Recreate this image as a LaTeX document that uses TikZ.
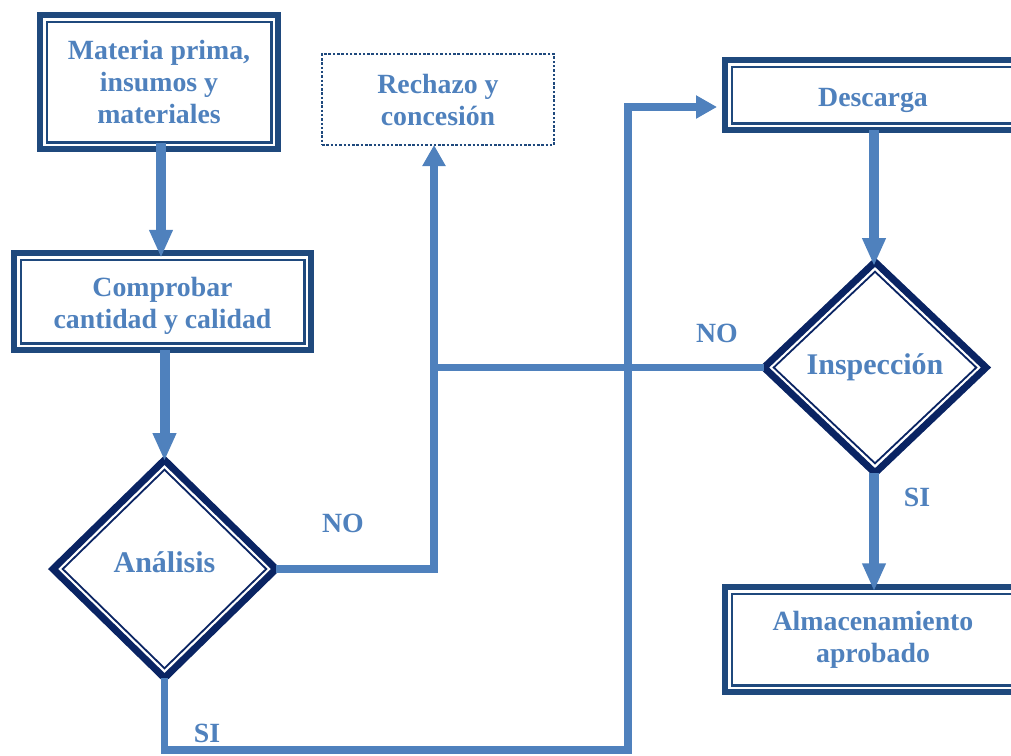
\documentclass[tikz,border=0pt]{standalone}
\usepackage{fontspec}
\setmainfont{Liberation Serif}
\usetikzlibrary{shapes.geometric,arrows.meta}
\definecolor{connc}{HTML}{4F81BD}
\definecolor{boxc}{HTML}{1F497D}
\definecolor{diac}{HTML}{0A2463}
\begin{document}
\begin{tikzpicture}[x=1pt,y=-1pt,
  txt/.style={font=\fontsize{27.8}{32}\selectfont\bfseries, text=connc, align=center},
  bigtxt/.style={txt, font=\fontsize{30}{34}\selectfont\bfseries},
  box/.style={txt, rectangle, draw=boxc, line width=6.4pt, inner sep=0pt, outer sep=0pt, fill=white},
  innerbox/.style={draw=boxc, line width=2.5pt},
  dotbox/.style={txt, rectangle, draw=boxc, line width=2.4pt, dash pattern=on 2.5pt off 1.8pt, inner sep=0pt, outer sep=0pt},
  dia/.style={bigtxt, diamond, aspect=1, draw=diac, line width=7pt, inner sep=0pt, outer sep=0pt, fill=white, line join=miter},
  innerdia/.style={draw=diac, line width=1.8pt, line join=miter},
  bigarrow/.style={draw=connc, line width=10pt, -{Triangle[length=28pt,width=22pt]}},
  route/.style={draw=connc, line width=7.5pt, line join=miter},
  routearrow/.style={route, -{Triangle[length=21pt,width=22pt]}}]
\useasboundingbox (0,0) rectangle (1011,755);

% nodes
\node[box, minimum width=237.5pt, minimum height=133.5pt] (b1) at (159,82) {Materia prima,\\insumos y\\materiales};
\node[box, minimum width=296.5pt, minimum height=96.5pt] (b2) at (162.5,301.5) {\rule{0pt}{27pt}Comprobar\\cantidad y calidad};
\node[dotbox, minimum width=232pt, minimum height=91pt] (r) at (438,99.5) {Rechazo y\\concesión};
\node[box, minimum width=295.5pt, minimum height=69.5pt] (d) at (873,95) {\rule{0pt}{29pt}Descarga};
\node[box, minimum width=295.5pt, minimum height=104.5pt] (al) at (873,639.5) {Almacenamiento\\aprobado};
\node[dia, minimum width=223pt, minimum height=218pt] (a) at (164.5,569) {Análisis\rule[-14pt]{0pt}{0pt}};
\node[dia, minimum width=222pt, minimum height=211pt] (i) at (875,367.5) {Inspección};

% inner borders
\foreach \n in {b1,b2,d,al}
  \draw[innerbox] ([xshift=6.5pt,yshift=-6.5pt]\n.north west) rectangle ([xshift=-6.5pt,yshift=6.5pt]\n.south east);
\foreach \n in {a,i}
  \draw[innerdia] ([yshift=-9.7pt]\n.north) -- ([xshift=-9.7pt]\n.east) -- ([yshift=9.7pt]\n.south) -- ([xshift=9.7pt]\n.west) -- cycle;

% labels
\node[txt] (no1) at (343,523) {NO};
\node[txt] (no2) at (717,333) {NO};
\node[txt] (si1) at (207,733) {SI};
\node[txt] (si2) at (917,497) {SI};

% helper coordinates
\coordinate (j) at (434,368);
\coordinate (c1) at (628,750);
\coordinate (c2) at (628,107);
\coordinate (dt) at (717,107);

% connectors
\draw[bigarrow, shorten >=-4.5pt] ([xshift=2pt,yshift=6pt]b1.south) coordinate (s1) -- (s1 |- b2.north);
\draw[bigarrow] (a.north |- b2.south) -- ([yshift=-1pt]a.north);
\draw[bigarrow, shorten >=-4pt] ([xshift=-1pt]i.north |- d.south) -- ([xshift=-1pt]i.north);
\draw[bigarrow, shorten >=-4pt] ([xshift=-1pt]i.south) -- ([xshift=-1pt]i.south |- al.north);
\draw[route] (a.east) -| (j);
\draw[route] (i.west) -- (i.west -| j);
\draw[routearrow] ([yshift=-3.75pt]j) -- (j |- r.south);
\draw[routearrow] (a.south) |- (c1) -- (c2) -- (dt);
\end{tikzpicture}
\end{document}
